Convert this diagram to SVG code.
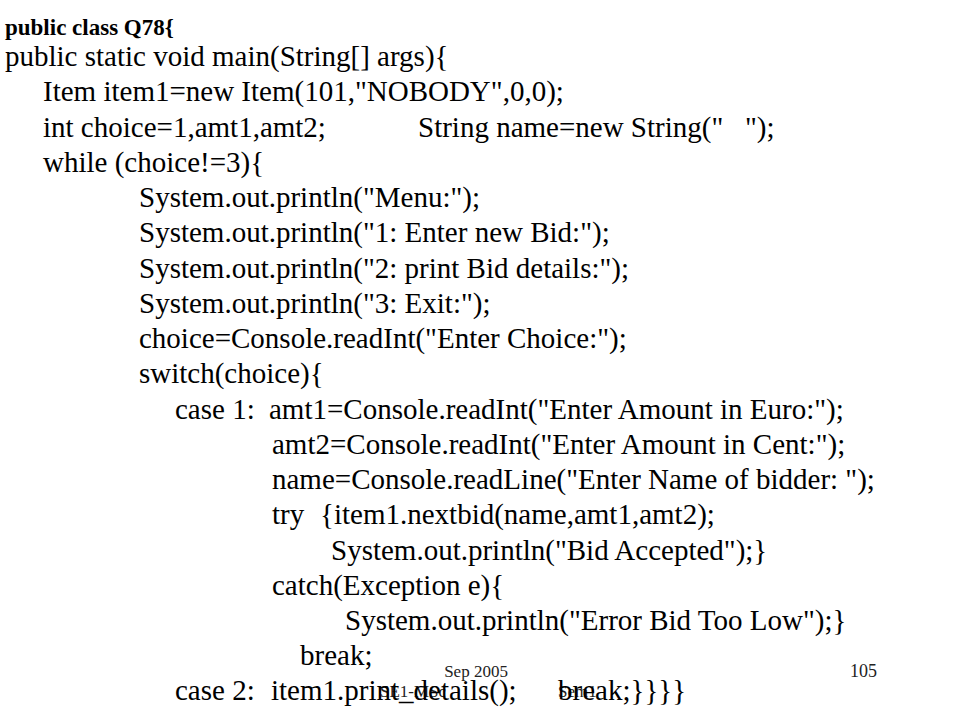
<svg xmlns="http://www.w3.org/2000/svg" width="960" height="720" viewBox="0 0 960 720">
<style>
.c{font-family:"Liberation Serif","Times New Roman",serif;font-size:29px;fill:#000;white-space:pre}
.t{font-family:"Liberation Serif","Times New Roman",serif;font-size:23px;font-weight:bold;fill:#000}
.f{font-family:"Liberation Serif","Times New Roman",serif;font-size:17px;fill:#222}
</style>
<rect width="960" height="720" fill="#fff"/>
<g id="footer">
<text class="f" x="476" y="677" text-anchor="middle">Sep 2005</text>
<text class="f" x="850" y="677" style="font-size:18px">105</text>
<text class="f" x="380" y="697">SE1-MSc</text>
<text class="f" x="558" y="697">Sem1</text>
</g>
<g id="code">
<text class="t" x="5" y="35">public class Q78{</text>
<text class="c" x="5" y="66">public static void main(String[] args){</text>
<text class="c" x="43" y="101">Item item1=new Item(101,"NOBODY",0,0);</text>
<text class="c" x="43" y="137">int choice=1,amt1,amt2;</text>
<text class="c" x="418" y="137" xml:space="preserve">String name=new String("   ");</text>
<text class="c" x="43" y="172">while (choice!=3){</text>
<text class="c" x="139" y="207">System.out.println("Menu:");</text>
<text class="c" x="139" y="242">System.out.println("1: Enter new Bid:");</text>
<text class="c" x="139" y="278">System.out.println("2: print Bid details:");</text>
<text class="c" x="139" y="313">System.out.println("3: Exit:");</text>
<text class="c" x="139" y="348">choice=Console.readInt("Enter Choice:");</text>
<text class="c" x="139" y="383">switch(choice){</text>
<text class="c" x="175" y="419">case 1:</text>
<text class="c" x="269" y="419">amt1=Console.readInt("Enter Amount in Euro:");</text>
<text class="c" x="272" y="454">amt2=Console.readInt("Enter Amount in Cent:");</text>
<text class="c" x="272" y="489" xml:space="preserve">name=Console.readLine("Enter Name of bidder: ");</text>
<text class="c" x="272" y="524">try</text>
<text class="c" x="320" y="524">{item1.nextbid(name,amt1,amt2);</text>
<text class="c" x="331" y="560">System.out.println("Bid Accepted");}</text>
<text class="c" x="272" y="595">catch(Exception e){</text>
<text class="c" x="345" y="630">System.out.println("Error Bid Too Low");}</text>
<text class="c" x="300" y="665">break;</text>
<text class="c" x="175" y="700">case 2:</text>
<text class="c" x="271" y="700">item1.print_details();</text>
<text class="c" x="558" y="700">break;}}}}</text>
</g>
</svg>
